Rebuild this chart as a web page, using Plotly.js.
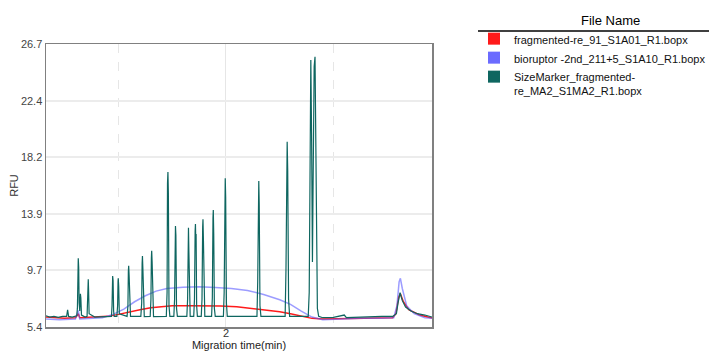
<!DOCTYPE html>
<html>
<head>
<meta charset="utf-8">
<script src="https://cdn.plot.ly/plotly-3.0.1.min.js"></script>
<style>html,body{margin:0;padding:0;background:#fff;}#chart{width:709px;height:358px;}</style>
</head>
<body>
<div id="chart"></div>
<script>
// Series names
const seriesNames = [
  "fragmented-re_91_S1A01_R1.bopx",
  "bioruptor -2nd_211+5_S1A10_R1.bopx",
  "SizeMarker_fragmented-<br>re_MA2_S1MA2_R1.bopx"
];
const seriesColors = ["#ff1a1a", "#6b6bff", "#0e6660"];

// Y tick labels
const yTicks = [5.4, 9.7, 13.9, 18.2, 22.4, 26.7];
const xTickLabel = ["2"];

// fragmented-re_91 (red)
const redX = [0.326,0.40,0.50,0.60,0.626,0.64,0.70,0.80,0.90,1.00,1.10,1.20,1.30,1.40,1.50,1.65,1.80,1.95,2.10,2.25,2.40,2.50,2.60,2.70,2.80,2.90,3.00,3.20,3.40,3.55,3.58,3.605,3.62,3.65,3.70,3.80,3.916];
const redY = [6.15,6.10,6.05,6.10,6.40,6.10,6.12,6.15,6.20,6.35,6.55,6.70,6.85,6.95,7.00,7.00,7.00,6.98,6.92,6.80,6.68,6.55,6.40,6.20,6.05,6.00,6.02,6.05,6.08,6.10,6.40,7.60,7.93,7.30,6.70,6.30,6.08];

// bioruptor (blue)
const blueX = [0.326,0.45,0.60,0.626,0.64,0.75,0.85,0.95,1.05,1.15,1.25,1.35,1.45,1.60,1.75,1.90,2.05,2.20,2.35,2.50,2.60,2.70,2.80,2.90,3.05,3.25,3.45,3.56,3.59,3.61,3.622,3.64,3.68,3.75,3.85,3.916];
const blueY = [6.00,5.95,6.00,6.65,6.00,6.05,6.10,6.35,6.75,7.30,7.75,8.10,8.30,8.40,8.43,8.38,8.30,8.15,7.85,7.45,7.10,6.60,6.15,5.95,6.00,6.05,6.05,6.10,7.00,8.80,9.06,8.30,7.00,6.40,6.10,6.05];

// SizeMarker (teal)
const tealX = [0.326,0.36,0.40,0.44,0.48,0.51,0.518,0.527,0.536,0.57,0.60,0.612,
  0.618,0.623,0.626,0.630,0.634,0.640,0.646,0.650,0.656,0.69,0.708,
  0.713,0.717,0.719,0.722,0.727,0.78,0.85,0.90,0.935,
  0.940,0.944,0.946,0.950,0.955,0.960,0.985,
  0.992,0.996,0.998,1.002,1.008,1.08,
  1.088,1.092,1.095,1.099,1.105,1.112,
  1.208,1.216,1.220,1.223,1.227,1.233,1.240,
  1.295,1.302,1.306,1.309,1.313,1.319,1.326,
  1.445,1.452,1.456,1.460,1.464,1.470,1.478,
  1.515,1.522,1.527,1.530,1.534,1.540,1.548,
  1.636,1.643,1.648,1.651,1.655,1.660,1.667,
  1.700,1.707,1.713,1.716,1.719,1.722,1.727,1.734,
  1.770,1.777,1.783,1.786,1.790,1.796,1.803,
  1.866,1.873,1.879,1.882,1.886,1.892,1.900,
  1.976,1.983,1.989,1.993,1.997,2.004,2.012,
  2.15,
  2.288,2.295,2.300,2.305,2.309,2.316,2.325,
  2.550,2.558,2.564,2.569,2.574,2.582,2.592,
  2.765,2.774,2.780,2.785,2.789,2.796,2.804,2.810,2.820,2.828,2.835,2.842,2.850,2.862,
  2.90,3.00,3.10,3.12,3.25,3.35,3.45,3.55,3.585,3.60,3.619,3.64,3.67,3.72,3.78,3.85,3.916];
const tealY = [6.25,6.15,6.20,6.12,6.20,6.18,6.20,6.70,6.20,6.15,6.20,6.25,
  6.80,9.80,10.57,9.90,7.20,6.60,7.90,7.60,6.30,6.15,6.20,
  7.00,8.60,9.00,8.20,6.40,6.15,6.15,6.18,6.20,
  7.00,9.00,9.24,8.90,6.60,6.20,6.20,
  7.00,8.80,9.06,8.50,6.40,6.20,
  7.00,9.60,10.00,9.30,6.60,6.20,
  6.20,7.20,10.20,10.74,9.80,6.50,6.18,
  6.20,7.50,10.60,11.14,10.30,6.60,6.18,
  6.20,8.00,16.20,17.07,15.50,7.00,6.20,
  6.20,7.50,12.40,13.00,12.30,6.80,6.20,
  6.20,7.50,12.30,12.87,11.00,6.60,6.20,
  6.20,7.50,12.60,13.15,11.90,12.40,7.00,6.20,
  6.20,7.50,12.90,13.50,12.00,6.80,6.20,
  6.20,7.60,13.60,14.20,12.40,6.80,6.20,
  6.20,8.00,16.00,16.60,15.20,7.20,6.20,
  6.18,
  6.20,8.80,15.50,16.39,14.70,7.00,6.20,
  6.20,9.80,18.00,19.35,17.20,7.50,6.20,
  6.20,8.00,14.30,24.50,25.50,20.00,10.30,16.00,25.00,25.74,20.00,12.00,6.80,6.20,
  6.10,6.12,6.30,6.10,6.15,6.20,6.20,6.20,6.40,7.20,7.98,7.40,6.90,6.60,6.40,6.30,6.15];

const font = "Liberation Sans, Arial, sans-serif";

const traces = [
  {x: redX, y: redY, type: "scatter", mode: "lines", line: {color: "#ff1a1a", width: 1.5}, showlegend: false, hoverinfo: "skip"},
  {x: blueX, y: blueY, type: "scatter", mode: "lines", line: {color: "rgba(90,90,255,0.6)", width: 1.5}, showlegend: false, hoverinfo: "skip"},
  {x: tealX, y: tealY, type: "scatter", mode: "lines", line: {color: seriesColors[2], width: 1.2}, showlegend: false, hoverinfo: "skip"}
];
// legend entries (square swatches)
seriesNames.forEach((n, i) => {
  traces.push({x: [null], y: [null], type: "bar", name: n, marker: {color: seriesColors[i]}, showlegend: true, hoverinfo: "skip"});
});

const L = 46, R = 432, T = 44, B = 327, W = 709, H = 358;
const pw = R - L, ph = B - T;
const px = v => (v - L) / pw;
const py = v => (B - v) / ph;

const layout = {
  width: W, height: H,
  margin: {l: L, r: W - R, t: T, b: H - B, autoexpand: false},
  paper_bgcolor: "#fff", plot_bgcolor: "#fff",
  font: {family: font, size: 11, color: "#333"},
  showlegend: true,
  xaxis: {
    range: [0.326, 3.916],
    tickvals: [2], ticktext: xTickLabel,
    ticks: "", ticklabelstandoff: -5,
    showgrid: true, gridcolor: "#e6e6e6", gridwidth: 1,
    minor: {tickvals: [1, 3], showgrid: true, gridcolor: "#e6e6e6", griddash: "dash", ticks: ""},
    showline: true, linecolor: "#808080", linewidth: 1.5, mirror: true,
    zeroline: false,
    tickfont: {size: 11, color: "#333"},
    title: {text: "Migration time(min)", font: {size: 11, color: "#222"}, standoff: 0},
    automargin: false
  },
  yaxis: {
    range: [5.4, 26.7],
    tickvals: yTicks, ticktext: yTicks.map(v => v.toFixed(1)),
    ticks: "", showgrid: true, gridcolor: "#ececec", gridwidth: 1.5,
    showline: true, linecolor: "#808080", linewidth: 1.5, mirror: true,
    zeroline: false,
    tickfont: {size: 11, color: "#444"},
    title: {text: "RFU", font: {size: 11, color: "#333"}, standoff: 0},
    automargin: false
  },
  legend: {
    x: px(474), xanchor: "left", y: py(25), yanchor: "top",
    font: {size: 11, color: "#111", family: font},
    bgcolor: "rgba(0,0,0,0)", tracegroupgap: 0, valign: "top"
  },
  shapes: [
    {type: "line", xref: "paper", yref: "paper", x0: px(478), x1: px(709), y0: py(31), y1: py(31), line: {color: "#000", width: 1.5}}
  ],
  annotations: [
    {text: "File Name", xref: "paper", yref: "paper", x: px(610), y: py(20), xanchor: "center", yanchor: "middle", showarrow: false, font: {size: 13, color: "#000", family: font}}
  ]
};

Plotly.newPlot("chart", traces, layout, {displayModeBar: false, staticPlot: true});
</script>
</body>
</html>
